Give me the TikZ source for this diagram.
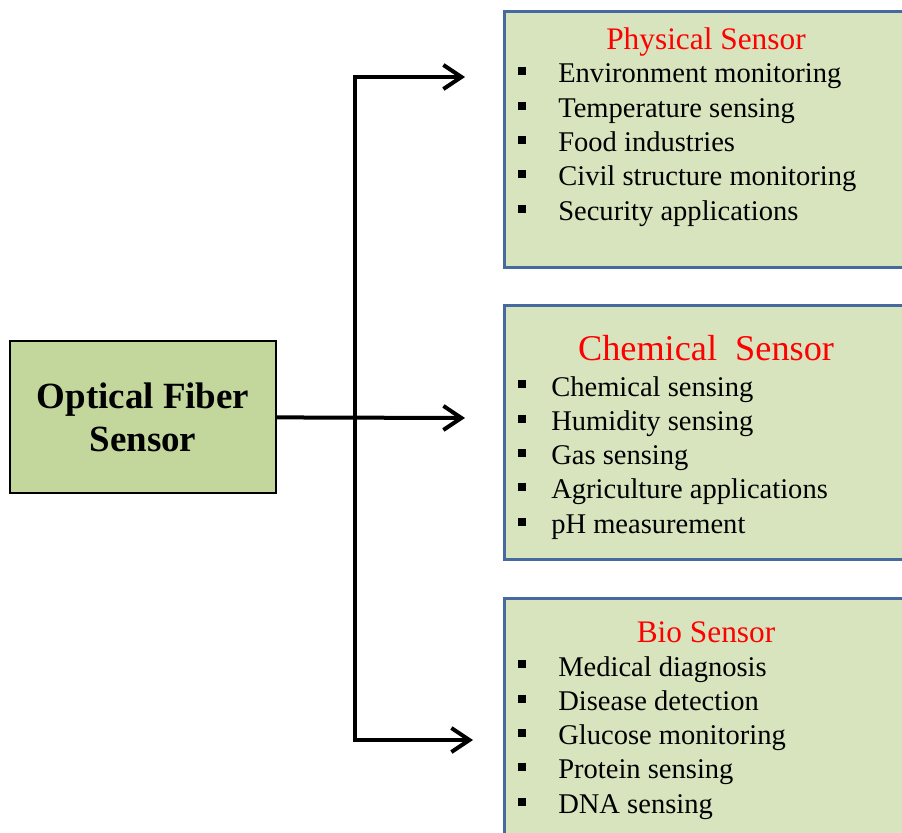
\documentclass[tikz,border=0pt]{standalone}
\usepackage{fontspec}
\setmainfont{Liberation Serif}
\usetikzlibrary{positioning, arrows.meta}
\definecolor{mainfill}{RGB}{195,214,155}
\definecolor{catfill}{RGB}{215,228,189}
\definecolor{catline}{RGB}{70,105,160}
\definecolor{titlered}{RGB}{255,0,0}
\newcommand{\sqbullet}{\rule[0.19cm]{0.2cm}{0.2cm}}
\newcommand{\bitem}[2][1.0cm]{\makebox[#1][l]{\sqbullet}#2}

\begin{document}
\begin{tikzpicture}[
  mainbox/.style={draw=black, line width=0.06cm, fill=mainfill, minimum width=6.65cm,
                  minimum height=3.8cm, align=center, font=\fontsize{26.3}{30.5}\selectfont\bfseries},
  catbox/.style={draw=catline, line width=0.07cm, fill=catfill, minimum width=10.15cm, anchor=north west},
  cattitle/.style={text=titlered, anchor=base, inner sep=0pt, font=\fontsize{22.3}{26}\selectfont},
  itemtext/.style={anchor=base west, inner sep=0pt, font=\fontsize{20.3}{24}\selectfont},
  arrow/.style={-{Straight Barb[length=0.45cm,width=0.6cm]}, line width=0.1cm}
]
\clip (0,0) rectangle (22.55,20.8);

% source
\node[mainbox] (ofs) at (3.575,10.375) {Optical Fiber\\Sensor};

% categories
\node[catbox, minimum height=6.4cm]  (phys) at (12.575,20.55) {};
\node[catbox, minimum height=6.35cm] (chem) at (12.575,13.2) {};
\node[catbox, minimum height=6.6cm]  (bio)  at (12.575,5.875) {};

\node[cattitle] (physT) at (17.65,19.55) {Physical Sensor};
\node[cattitle, font=\fontsize{25.8}{30}\selectfont] (chemT) at (17.65,11.8) {Chemical\ \ Sensor};
\node[cattitle] (bioT) at (17.65,4.75) {Bio Sensor};

\foreach \txt [count=\i from 0] in {Environment monitoring, Temperature sensing, Food industries,
    Civil structure monitoring, Security applications}
  \node[itemtext] (p\i) at (12.95,18.725-0.8575*\i) {\bitem{\txt}};
\foreach \txt [count=\i from 0] in {Chemical sensing, Humidity sensing, Gas sensing,
    Agriculture applications, pH measurement}
  \node[itemtext] (c\i) at (12.95,10.9-0.8575*\i) {\bitem[0.825cm]{\txt}};
\foreach \txt [count=\i from 0] in {Medical diagnosis, Disease detection, Glucose monitoring,
    Protein sensing, DNA sensing}
  \node[itemtext] (b\i) at (12.95,3.9-0.8575*\i) {\bitem{\txt}};

% connectors
\coordinate (split) at (8.875,10.35);
\coordinate (tipP) at (11.625,18.875);
\coordinate (tipC) at (11.625,10.35);
\coordinate (tipB) at (11.825,2.3);
\draw[arrow] (ofs) -- (tipC);
\draw[arrow] (split) |- (tipP);
\draw[arrow] (split) |- (tipB);
\end{tikzpicture}
\end{document}
